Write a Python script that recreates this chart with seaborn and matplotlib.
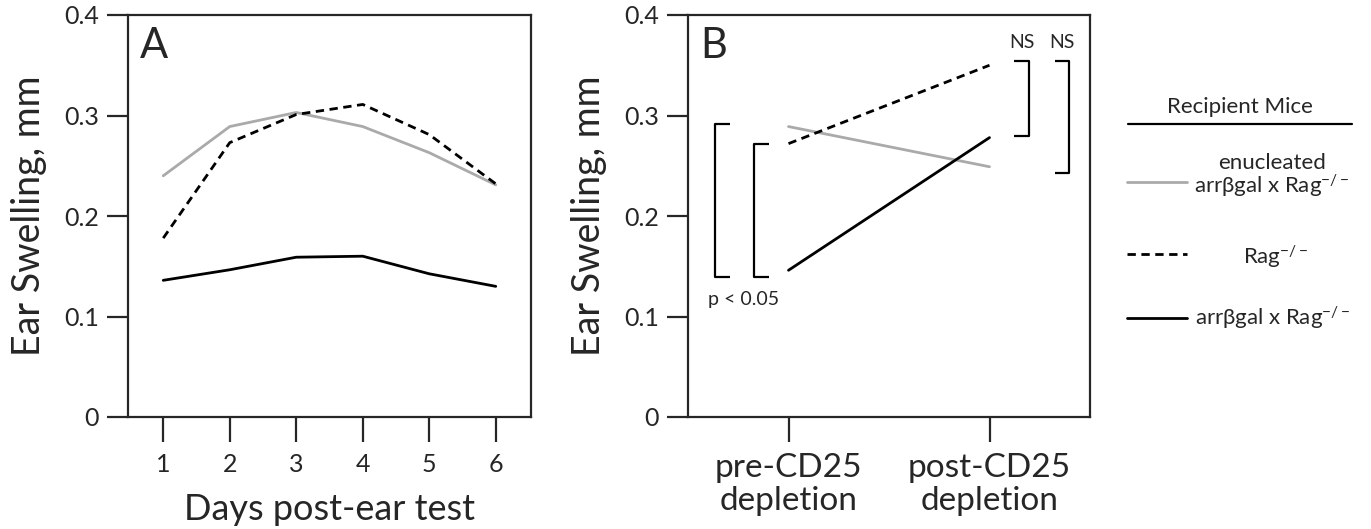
import pandas as pd
import seaborn as sns
import matplotlib.pyplot as plt
from matplotlib.lines import Line2D

# data
days = [1, 2, 3, 4, 5, 6]
enucleated_a = [0.240, 0.289, 0.303, 0.289, 0.263, 0.231]
rag_a = [0.178, 0.273, 0.301, 0.311, 0.281, 0.232]
arr_a = [0.136, 0.1465, 0.159, 0.160, 0.1425, 0.130]

phases = ['pre-CD25\ndepletion', 'post-CD25\ndepletion']
enucleated_b = [0.289, 0.249]
rag_b = [0.272, 0.350]
arr_b = [0.146, 0.278]

groups = ['enucleated\narr\u03b2gal x Rag$^{-/-}$', 'Rag$^{-/-}$', 'arr\u03b2gal x Rag$^{-/-}$']

sns.set_style('ticks')
plt.rcParams['font.family'] = ['Lato', 'DejaVu Sans']
plt.rcParams['mathtext.fontset'] = 'custom'
plt.rcParams['mathtext.rm'] = 'Lato'
plt.rcParams['mathtext.it'] = 'Lato'
plt.rcParams['mathtext.default'] = 'rm'

colors = ['#aaaaaa', 'black', 'black']
styles = ['-', (0, (3, 2)), '-']
lw = 2.0

fig = plt.figure(figsize=(13.71, 5.29), dpi=100)
W, H = 1371, 529
axA = fig.add_axes([128 / W, (H - 417) / H, (531 - 128) / W, (417 - 15) / H])
axB = fig.add_axes([688 / W, (H - 417) / H, (1090 - 688) / W, (417 - 15) / H])

dfA = pd.DataFrame({'day': days * 3,
                    'swelling': enucleated_a + rag_a + arr_a,
                    'group': [groups[0]] * 6 + [groups[1]] * 6 + [groups[2]] * 6})
dfB = pd.DataFrame({'phase': [0, 1] * 3,
                    'swelling': enucleated_b + rag_b + arr_b,
                    'group': [groups[0]] * 2 + [groups[1]] * 2 + [groups[2]] * 2})

for g, c, ls in zip(groups, colors, styles):
    sns.lineplot(data=dfA[dfA['group'] == g], x='day', y='swelling', color=c,
                 linestyle=ls, lw=lw, ax=axA, legend=False)
    sns.lineplot(data=dfB[dfB['group'] == g], x='phase', y='swelling', color=c,
                 linestyle=ls, lw=lw, ax=axB, legend=False)

for ax in (axA, axB):
    ax.set_ylim(0, 0.4)
    ax.set_yticks([0, 0.1, 0.2, 0.3, 0.4])
    ax.set_yticklabels(['0', '0.1', '0.2', '0.3', '0.4'])
    ax.set_ylabel('Ear Swelling, mm', fontsize=27, labelpad=12)
    for s in ax.spines.values():
        s.set_linewidth(1.6)
        s.set_visible(True)
    ax.tick_params(axis='y', length=15, width=1.6, labelsize=18, pad=6)
    ax.tick_params(axis='x', length=18, width=1.6, labelsize=18, pad=8)

axA.set_xlim(0.47, 6.53)
axA.set_xticks(days)
axA.set_xlabel('Days post-ear test', fontsize=26, labelpad=12)
axA.text(0.03, 0.97, 'A', transform=axA.transAxes, fontsize=30, va='top')

axB.set_xlim(-0.5, 1.5)
axB.set_xticks([0, 1])
axB.set_xticklabels(phases, fontsize=24, linespacing=1.1)
axB.set_xlabel('')
axB.text(0.03, 0.97, 'B', transform=axB.transAxes, fontsize=30, va='top')

# significance brackets
bk = dict(color='black', lw=1.6, solid_capstyle='butt')
axB.plot([-0.291, -0.364, -0.364, -0.291], [0.2917, 0.2917, 0.1398, 0.1398], **bk)
axB.plot([-0.096, -0.172, -0.172, -0.096], [0.2713, 0.2713, 0.1398, 0.1398], **bk)
axB.text(-0.226, 0.117, 'p < 0.05', ha='center', va='center', fontsize=14)
axB.plot([1.124, 1.199, 1.199, 1.124], [0.3544, 0.3544, 0.2793, 0.2793], **bk)
axB.plot([1.325, 1.398, 1.398, 1.325], [0.3544, 0.3544, 0.2424, 0.2424], **bk)
axB.text(1.162, 0.373, 'NS', ha='center', va='center', fontsize=14)
axB.text(1.362, 0.373, 'NS', ha='center', va='center', fontsize=14)

# legend, drawn by hand to get the centred labels and title rule
fig.text(1240 / W, 1 - 107 / H, 'Recipient Mice', ha='center', va='center', fontsize=16)
fig.add_artist(Line2D([1128 / W, 1352 / W], [1 - 124 / H, 1 - 124 / H], color='black', lw=1.6))
legend_y = [182, 254, 318]
text_y = [176, 257, 318]
text_x = [1272, 1276, 1273]
for g, c, ls, ly, ty, tx in zip(groups, colors, styles, legend_y, text_y, text_x):
    fig.add_artist(Line2D([1127 / W, 1187 / W], [1 - ly / H, 1 - ly / H], color=c, linestyle=ls, lw=lw))
    fig.text(tx / W, 1 - ty / H, g, ha='center', va='center', fontsize=16,
             multialignment='center', linespacing=1.0)

fig.savefig('out.png', dpi=100)
